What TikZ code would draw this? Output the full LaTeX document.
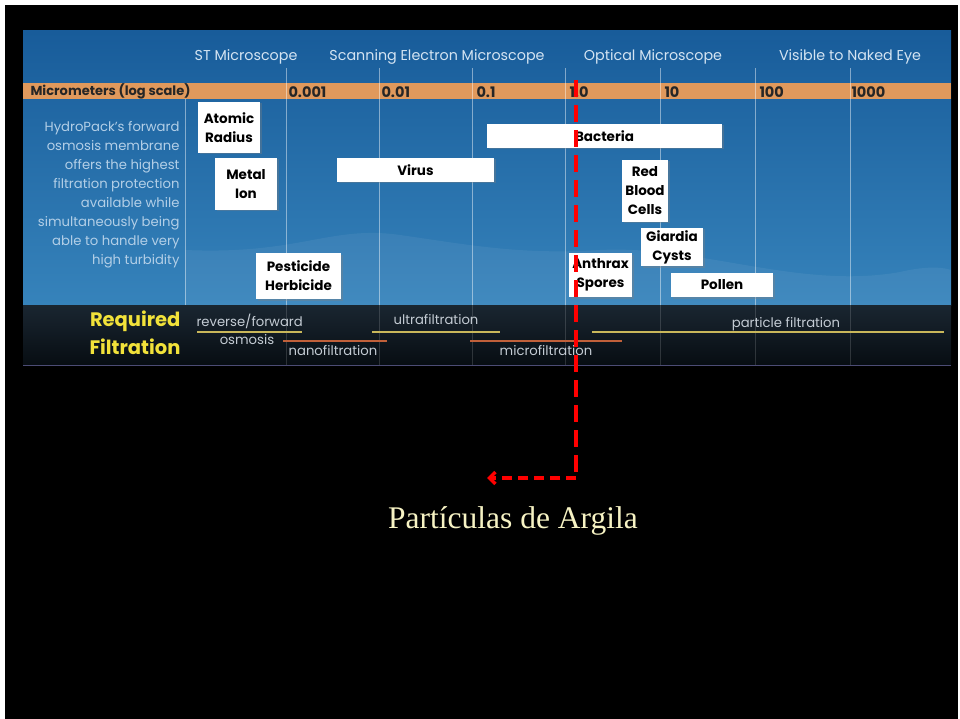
\documentclass[tikz,border=0pt]{standalone}
\usepackage{fontspec}
\setmainfont{Poppins}
\newfontfamily\claysfont{Liberation Serif}
\usetikzlibrary{arrows.meta,shadows}

\definecolor{paneltop}{HTML}{185C9A}
\definecolor{panelbot}{HTML}{3683BB}
\definecolor{scalebar}{HTML}{E0995C}
\definecolor{hdrtext}{HTML}{D4E4F2}
\definecolor{sidetext}{HTML}{B3CFE7}
\definecolor{filttop}{HTML}{1A2631}
\definecolor{filtbot}{HTML}{070D12}
\definecolor{filttext}{HTML}{C4CCD4}
\definecolor{reqyellow}{HTML}{F2E23A}
\definecolor{lineyellow}{HTML}{C9B75A}
\definecolor{linered}{HTML}{C0603A}
\definecolor{claytext}{HTML}{F7F3C4}

\begin{document}
\begin{tikzpicture}[
    x=1pt, y=-1pt,
    hdr/.style={text=hdrtext, font=\fontsize{14.3}{16}\selectfont},
    tick/.style={anchor=west, text=black!85, font=\fontsize{14.5}{15}\selectfont\bfseries},
    grid/.style={white, opacity=0.45, line width=0.8pt},
    item/.style={fill=white, text=black, align=center, inner sep=0pt,
                 font=\fontsize{13.5}{19}\selectfont\bfseries,
                 drop shadow={opacity=0.35, shadow xshift=1.5pt, shadow yshift=-1.5pt}},
    filt/.style={text=filttext, font=\fontsize{13.2}{15}\selectfont},
    fline/.style={line width=1.2pt, #1},
    clay/.style={red, line width=3.4pt},
  ]
    % Page and panel
    \fill[white] (0,0) rectangle (960,719);
    \fill[black] (5,5) rectangle (958,719);
    \shade[top color=paneltop, bottom color=panelbot] (23,31) rectangle (951,305);
    \fill[white, opacity=0.06] (185,250) .. controls (300,255) and (330,225) .. (400,235)
        .. controls (470,245) and (520,255) .. (600,250)
        .. controls (700,245) and (800,290) .. (900,272)
        .. controls (930,265) and (945,268) .. (951,270) -- (951,305) -- (185,305) -- cycle;
    \fill[scalebar] (23,83) rectangle (951,99);
    \shade[top color=filttop, bottom color=filtbot] (23,305) rectangle (951,365);
    \draw[black!60!blue!40!gray, line width=1pt] (23,365) -- (951,365);

    % Grid lines
    \draw[grid] (185,99) -- (185,305);
    \foreach \gx in {286,379,472,565,660,755,850}
        \draw[grid] (\gx,68) -- (\gx,305);
    \foreach \gx in {286,379,472,565,660,755,850}
        \draw[grid, opacity=0.15] (\gx,305) -- (\gx,365);

    % Microscope headers
    \node[hdr] (stm)   at (246,57) {ST Microscope};
    \node[hdr] (sem)   at (437,57) {Scanning Electron Microscope};
    \node[hdr] (opt)   at (653,57) {Optical Microscope};
    \node[hdr] (naked) at (850,57) {Visible to Naked Eye};

    % Log scale
    \node[tick, anchor=west, font=\fontsize{13}{14}\selectfont\bfseries] (unit) at (27,91)
        {Micrometers (log scale)};
    \node[tick] (t1) at (285,92) {0.001};
    \node[tick] (t2) at (378,92) {0.01};
    \node[tick] (t3) at (473,92) {0.1};
    \node[tick] (t4) at (566,92) {1.0};
    \node[tick] (t5) at (661,92) {10};
    \node[tick] (t6) at (756,92) {100};
    \node[tick] (t7) at (848,92) {1000};

    % Side text
    \node[text=sidetext, align=right, anchor=north east,
          font=\fontsize{13.2}{19}\selectfont] (side) at (183,118)
        {HydroPack's forward\\osmosis membrane\\offers the highest\\filtration protection\\
         available while\\simultaneously being\\able to handle very\\high turbidity};

    % Particles
    \node[item, minimum width=62, minimum height=51] (atom)  at (229,127.5) {Atomic\\Radius};
    \node[item, minimum width=62, minimum height=52] (metal) at (246,184)   {Metal\\Ion};
    \node[item, minimum width=157, minimum height=24] (virus) at (415.5,170) {Virus};
    \node[item, minimum width=235, minimum height=24] (bact)  at (604.5,136) {Bacteria};
    \node[item, minimum width=46, minimum height=62] (rbc)   at (645,191)   {Red\\Blood\\Cells};
    \node[item, minimum width=62, minimum height=38] (giard) at (672,247)   {Giardia\\Cysts};
    \node[item, minimum width=63, minimum height=44] (anth)  at (600.5,275) {Anthrax\\Spores};
    \node[item, minimum width=102, minimum height=24] (pollen) at (722,285) {Pollen};
    \node[item, minimum width=85, minimum height=46] (pest)  at (298.5,276) {Pesticide\\Herbicide};

    % Required filtration
    \node[text=reqyellow, align=right, anchor=north east,
          font=\fontsize{19.5}{28}\selectfont\bfseries] (req) at (184,307) {Required\\Filtration};
    \node[filt, anchor=west] (rev)   at (193,321) {reverse/forward};
    \node[filt] (osm)   at (247,340) {osmosis};
    \node[filt] (nano)  at (333,351) {nanofiltration};
    \node[filt] (ultra) at (436,320) {ultrafiltration};
    \node[filt] (micro) at (546,351) {microfiltration};
    \node[filt] (part)  at (786,324) {particle filtration};
    \draw[fline=lineyellow] (197,332) -- (302,332);
    \draw[fline=lineyellow] (372,332) -- (500,332);
    \draw[fline=lineyellow] (592,332) -- (944,332);
    \draw[fline=linered] (283,341) -- (387,341);
    \draw[fline=linered] (470,341) -- (622,341);

    % Clay particles marker
    \coordinate (claytop) at (576,80);
    \coordinate (claybend) at (576,478);
    \coordinate (clayend) at (487,478);
    \draw[clay, dash pattern=on 17pt off 8pt] (claytop) -- (claybend);
    \draw[clay, dash pattern=on 10pt off 6pt, -{Straight Barb[length=6pt,width=12pt]}]
        (claybend) -- (clayend);
    \node[text=claytext, font=\claysfont\fontsize{31.5}{34}\selectfont] (clay) at (513,521)
        {Partículas de Argila};
\end{tikzpicture}
\end{document}
